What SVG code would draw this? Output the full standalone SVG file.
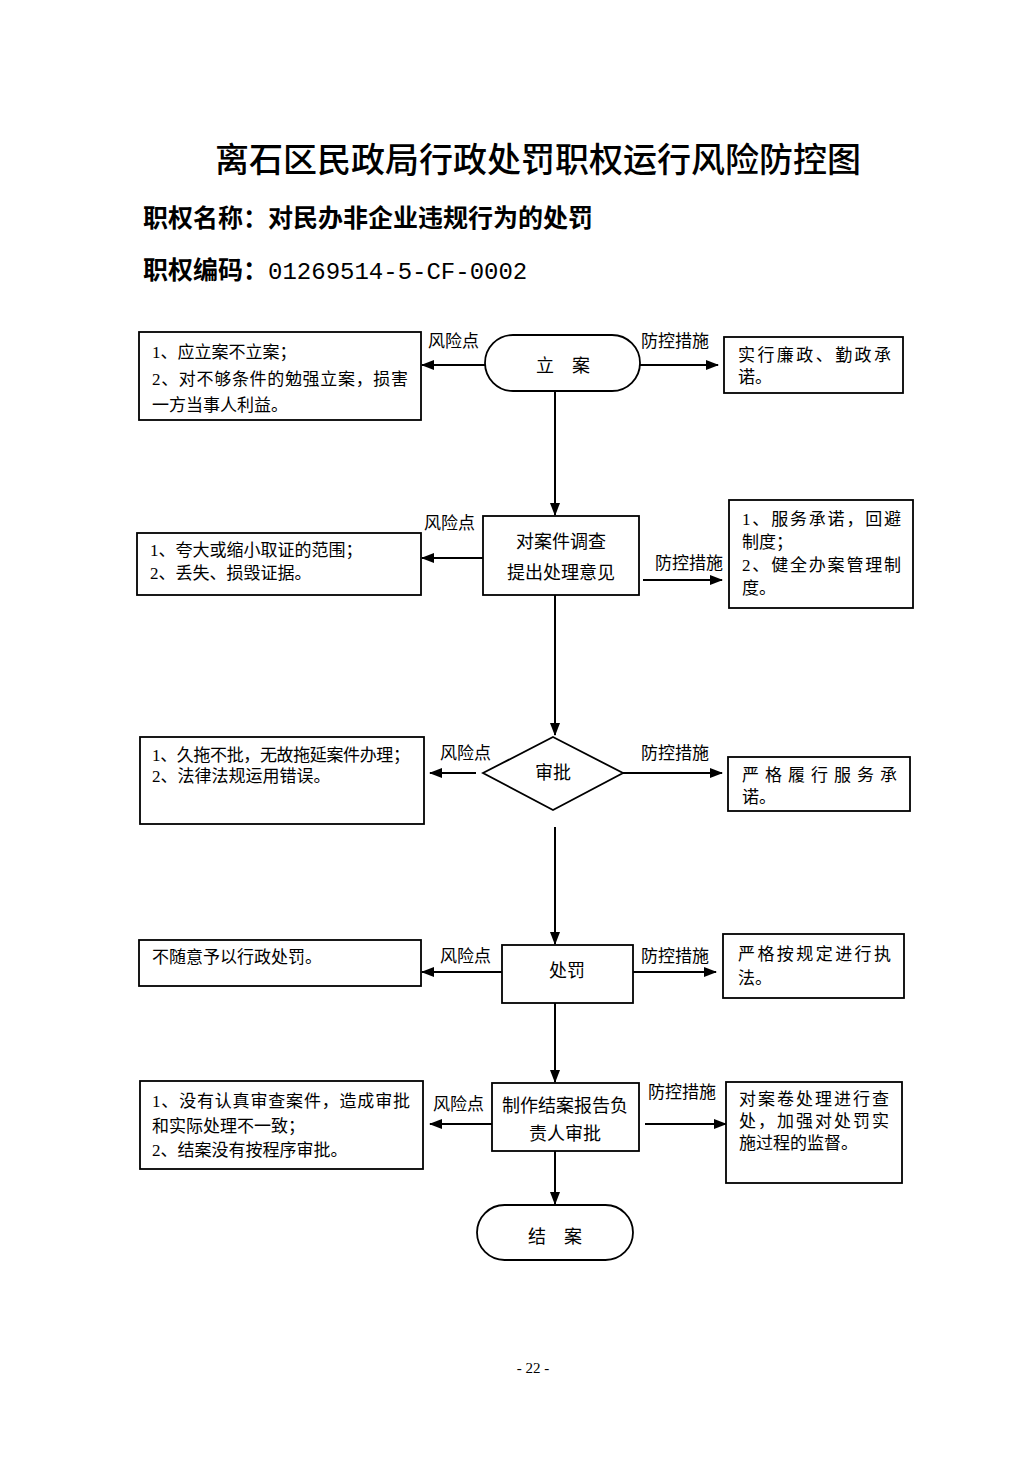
<svg xmlns="http://www.w3.org/2000/svg" width="1033" height="1461" viewBox="0 0 1033 1461">
<style>
text{font-family:"Liberation Serif","Noto Sans CJK SC",serif;fill:#000}
.t{font-size:17px}
.n{font-size:18px;text-anchor:middle;dominant-baseline:central}
.lb{font-size:17px}
.box{fill:#fff;stroke:#000;stroke-width:1.8}
.ln{stroke:#000;stroke-width:2;fill:none}
.title{font-family:"Noto Sans CJK SC",sans-serif;font-size:34px;text-anchor:middle;font-weight:500}
.sub{font-family:"Noto Sans CJK SC",sans-serif;font-size:25px;font-weight:bold}
</style>
<defs>
<marker id="ah" markerWidth="13" markerHeight="10" refX="12" refY="5" orient="auto" markerUnits="userSpaceOnUse">
<path d="M0,0 L13,5 L0,10 Z" fill="#000"/>
</marker>
</defs>
<rect width="1033" height="1461" fill="#fff"/>
<text class="title" x="538" y="172">离石区民政局行政处罚职权运行风险防控图</text>
<text class="sub" x="143" y="227">职权名称：对民办非企业违规行为的处罚</text>
<text class="sub" x="143" y="279">职权编码：<tspan font-family="Liberation Mono,monospace" font-weight="normal" font-size="24">01269514-5-CF-0002</tspan></text>

<g id="connectors">
<line class="ln" x1="485" y1="365" x2="422" y2="365" marker-end="url(#ah)"/>
<line class="ln" x1="640" y1="365" x2="718" y2="365" marker-end="url(#ah)"/>
<line class="ln" x1="555" y1="391" x2="555" y2="515" marker-end="url(#ah)"/>
<line class="ln" x1="483" y1="558" x2="422" y2="558" marker-end="url(#ah)"/>
<line class="ln" x1="643" y1="580" x2="722" y2="580" marker-end="url(#ah)"/>
<line class="ln" x1="555" y1="595" x2="555" y2="735" marker-end="url(#ah)"/>
<line class="ln" x1="476" y1="773" x2="430" y2="773" marker-end="url(#ah)"/>
<line class="ln" x1="623" y1="773" x2="722" y2="773" marker-end="url(#ah)"/>
<line class="ln" x1="555" y1="827" x2="555" y2="944" marker-end="url(#ah)"/>
<line class="ln" x1="502" y1="972" x2="422" y2="972" marker-end="url(#ah)"/>
<line class="ln" x1="633" y1="972" x2="716" y2="972" marker-end="url(#ah)"/>
<line class="ln" x1="555" y1="1003" x2="555" y2="1082" marker-end="url(#ah)"/>
<line class="ln" x1="492" y1="1124" x2="430" y2="1124" marker-end="url(#ah)"/>
<line class="ln" x1="645" y1="1124" x2="726" y2="1124" marker-end="url(#ah)"/>
<line class="ln" x1="555" y1="1151" x2="555" y2="1204" marker-end="url(#ah)"/>
<text class="lb" x="428" y="347">风险点</text>
<text class="lb" x="641" y="347">防控措施</text>
<text class="lb" x="424" y="529">风险点</text>
<text class="lb" x="655" y="569">防控措施</text>
<text class="lb" x="440" y="759">风险点</text>
<text class="lb" x="641" y="759">防控措施</text>
<text class="lb" x="440" y="962">风险点</text>
<text class="lb" x="641" y="962">防控措施</text>
<text class="lb" x="433" y="1110">风险点</text>
<text class="lb" x="648" y="1098">防控措施</text>
</g>

<g id="n1">
<rect class="box" x="485" y="335" width="155" height="56" rx="28" ry="28"/>
<text class="n" x="563" y="366">立　案</text>
</g>
<g id="r1">
<rect class="box" x="139" y="332" width="282" height="88"/>
<text class="t" x="152" y="358">1、应立案不立案；</text>
<text class="t" x="152" y="385" textLength="256" lengthAdjust="spacing">2、对不够条件的勉强立案，损害</text>
<text class="t" x="152" y="411">一方当事人利益。</text>
</g>
<g id="m1">
<rect class="box" x="724" y="337" width="179" height="56"/>
<text class="t" x="738" y="361" textLength="153" lengthAdjust="spacing">实行廉政、勤政承</text>
<text class="t" x="738" y="383">诺。</text>
</g>

<g id="n2">
<rect class="box" x="483" y="516" width="156" height="79"/>
<text class="n" x="561" y="542">对案件调查</text>
<text class="n" x="561" y="573">提出处理意见</text>
</g>
<g id="r2">
<rect class="box" x="137" y="533" width="284" height="62"/>
<text class="t" x="150" y="556">1、夸大或缩小取证的范围；</text>
<text class="t" x="150" y="579">2、丢失、损毁证据。</text>
</g>
<g id="m2">
<rect class="box" x="729" y="500" width="184" height="108"/>
<text class="t" x="742" y="525" textLength="159" lengthAdjust="spacing">1、服务承诺，回避</text>
<text class="t" x="742" y="548">制度；</text>
<text class="t" x="742" y="571" textLength="159" lengthAdjust="spacing">2、健全办案管理制</text>
<text class="t" x="742" y="594">度。</text>
</g>

<g id="n3">
<polygon class="box" points="553,737 623,773 553,810 483,773"/>
<text class="n" x="553" y="773">审批</text>
</g>
<g id="r3">
<rect class="box" x="140" y="737" width="284" height="87"/>
<text class="t" x="152" y="761" textLength="258" lengthAdjust="spacing">1、久拖不批，无故拖延案件办理；</text>
<text class="t" x="152" y="782">2、法律法规运用错误。</text>
</g>
<g id="m3">
<rect class="box" x="728" y="757" width="182" height="54"/>
<text class="t" x="742" y="781" textLength="155" lengthAdjust="spacing">严格履行服务承</text>
<text class="t" x="742" y="803">诺。</text>
</g>

<g id="n4">
<rect class="box" x="502" y="945" width="131" height="58"/>
<text class="n" x="567" y="971">处罚</text>
</g>
<g id="r4">
<rect class="box" x="139" y="940" width="282" height="46"/>
<text class="t" x="152" y="963">不随意予以行政处罚。</text>
</g>
<g id="m4">
<rect class="box" x="723" y="934" width="181" height="64"/>
<text class="t" x="738" y="960" textLength="153" lengthAdjust="spacing">严格按规定进行执</text>
<text class="t" x="738" y="984">法。</text>
</g>

<g id="n5">
<rect class="box" x="492" y="1083" width="147" height="68"/>
<text class="n" x="565" y="1106">制作结案报告负</text>
<text class="n" x="565" y="1134">责人审批</text>
</g>
<g id="r5">
<rect class="box" x="140" y="1081" width="283" height="88"/>
<text class="t" x="152" y="1107" textLength="258" lengthAdjust="spacing">1、没有认真审查案件，造成审批</text>
<text class="t" x="152" y="1132">和实际处理不一致；</text>
<text class="t" x="152" y="1156">2、结案没有按程序审批。</text>
</g>
<g id="m5">
<rect class="box" x="726" y="1082" width="176" height="101"/>
<text class="t" x="739" y="1105" textLength="150" lengthAdjust="spacing">对案卷处理进行查</text>
<text class="t" x="739" y="1127" textLength="150" lengthAdjust="spacing">处，加强对处罚实</text>
<text class="t" x="739" y="1149">施过程的监督。</text>
</g>

<g id="n6">
<rect class="box" x="477" y="1205" width="156" height="55" rx="27.5" ry="27.5"/>
<text class="n" x="555" y="1237">结　案</text>
</g>

<text x="533" y="1373" font-size="15" text-anchor="middle">- 22 -</text>
</svg>
